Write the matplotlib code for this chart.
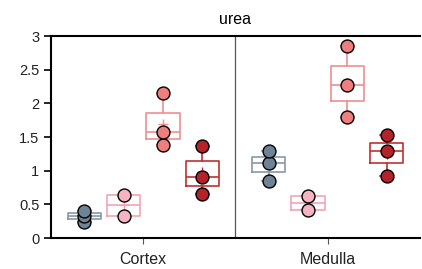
import matplotlib
matplotlib.use("Agg")
import matplotlib.pyplot as plt
import numpy as np

regions = ["Cortex", "Medulla"]
groups = ["g1", "g2", "g3", "g4"]
colors = ["#6f8396", "#f7b3c2", "#ee7f7f", "#b5222a"]
edge_colors = ["#8797a8", "#f4a3b5", "#ef8f8f", "#c0302f"]

# points, per region then per group
values = {
    "Cortex": [
        [0.24, 0.33, 0.40],
        [0.33, 0.64],
        [1.38, 1.57, 2.15],
        [0.65, 0.91, 1.37],
    ],
    "Medulla": [
        [0.85, 1.11, 1.29],
        [0.41, 0.62],
        [1.80, 2.27, 2.85],
        [0.92, 1.30, 1.53],
    ],
}
offsets = [-0.32, -0.107, 0.107, 0.32]


def hinges(v):
    # Tukey hinges, the box in the picture spans them
    v = np.sort(np.asarray(v, dtype=float))
    n = len(v)
    med = np.median(v)
    half = (n + 1) // 2
    lo = np.median(v[:half])
    hi = np.median(v[n - half:])
    return lo, med, hi


plt.rcParams["font.family"] = ["Liberation Sans", "DejaVu Sans"]
fig = plt.figure(figsize=(4.22, 2.69), dpi=100)
ax = fig.add_axes([0.121, 0.115, 0.874, 0.751])

for ri, region in enumerate(regions):
    for gi, pts in enumerate(values[region]):
        x = ri + offsets[gi]
        q1, med, q3 = hinges(pts)
        stats = [{
            "med": med, "q1": q1, "q3": q3,
            "whislo": min(pts), "whishi": max(pts),
            "mean": np.mean(pts), "fliers": [],
        }]
        ec = edge_colors[gi]
        ax.bxp(
            stats, positions=[x], widths=0.18, showmeans=True,
            meanprops=dict(marker="+", markeredgecolor=ec, markersize=7, markeredgewidth=1),
            boxprops=dict(color=ec, linewidth=1.2),
            medianprops=dict(color=ec, linewidth=1.2),
            whiskerprops=dict(color=ec, linewidth=1.2),
            capprops=dict(color=ec, linewidth=1.2),
            capwidths=0.07,
            manage_ticks=False,
        )
        ax.plot([x] * len(pts), pts, "o", color=colors[gi], markeredgecolor="black",
                markeredgewidth=1, markersize=9.3, zorder=4)

ax.axvline(0.5, color="#555555", linewidth=0.9)
ax.set_xlim(-0.5, 1.5)
ax.set_ylim(0, 3)
ax.set_yticks([0, 0.5, 1, 1.5, 2, 2.5, 3])
ax.set_yticklabels(["0", "0.5", "1", "1.5", "2", "2.5", "3"])
ax.set_xticks([0, 1])
ax.set_xticklabels(regions)
ax.tick_params(axis="both", colors="#222222", direction="out")
ax.tick_params(axis="y", labelsize=10.5, length=5, width=1.2, color="black")
ax.tick_params(axis="x", labelsize=11.5, length=4, width=0.8, color="#555555", pad=6)
for side in ["left", "bottom", "top"]:
    ax.spines[side].set_linewidth(1.5)
    ax.spines[side].set_color("black")
ax.spines["right"].set_visible(False)
ax.set_title("urea", fontsize=11.5, pad=9)

fig.savefig("out.png", dpi=100)
